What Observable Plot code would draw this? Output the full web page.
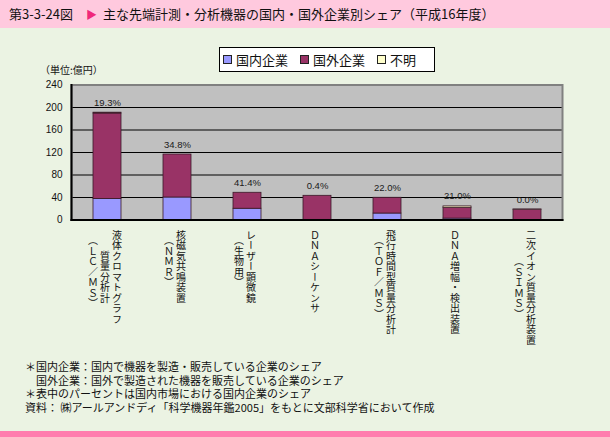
<!DOCTYPE html>
<html><head><meta charset="utf-8">
<script src="https://cdn.jsdelivr.net/npm/d3@7"></script>
<script src="https://cdn.jsdelivr.net/npm/@observablehq/plot@0.6"></script>
<style>
body{margin:0;}
#wrap{position:relative;width:610px;height:437px;background:#ebf3e3;overflow:hidden;font-family:"Noto Sans CJK JP",sans-serif;color:#111;}
#titlebar{position:absolute;left:0;top:0;width:610px;height:28px;background:#ffc9de;font-size:13px;line-height:28px;white-space:nowrap;}
#titlebar .t0{position:absolute;left:9px;}
#titlebar .tri{position:absolute;left:86px;color:#f0287a;font-size:11px;}
#titlebar .t1{position:absolute;left:103px;}
#unit{position:absolute;left:40px;top:62px;font-size:10px;white-space:nowrap;}
#legend{position:absolute;left:219px;top:47px;width:214px;height:23px;border:1px solid #000;background:#fff;display:flex;align-items:center;font-size:13px;z-index:2;}
#legend .item{display:flex;align-items:center;margin-left:3px;margin-right:9px;white-space:nowrap;}
#legend .sw{width:7px;height:7px;border:1px solid #222;margin-right:4px;}
#plot{position:absolute;left:0;top:0;}
#notes{position:absolute;left:25px;top:360px;font-size:11px;line-height:13.5px;white-space:pre;}
#footbar{position:absolute;left:0;top:431px;width:610px;height:6px;background:#ff7dae;}
</style></head>
<body>
<div id="wrap">
  <div id="titlebar"><span class="t0">第3-3-24図</span><span class="tri">▶</span><span class="t1">主な先端計測・分析機器の国内・国外企業別シェア（平成16年度）</span></div>
  <div id="unit">（単位:億円）</div>
  <div id="legend"></div>
  <div id="plot"></div>
  <div id="notes"></div>
  <div id="footbar"></div>
</div>
<script>
// ---- data ----
const categories = ["LC/MS", "NMR", "レーザー顕微鏡", "DNAシーケンサ", "TOF/MS", "DNA増幅・検出装置", "SIMS"];
const labelColumns = [
  ["液体クロマトグラフ", "質量分析計", "（ＬＣ／ＭＳ）"],
  ["核磁気共鳴装置", "（ＮＭＲ）"],
  ["レーザー顕微鏡", "（生物用）"],
  ["ＤＮＡシーケンサ"],
  ["飛行時間型質量分析計", "（ＴＯＦ／ＭＳ）"],
  ["ＤＮＡ増幅・検出装置"],
  ["二次イオン質量分析装置", "（ＳＩＭＳ）"]
];
const seriesNames = ["国内企業", "国外企業", "不明"];
const seriesColors = ["#9999ff", "#993366", "#ffffcc"];
const domestic = [37.5, 40, 20, 0.2, 11.5, 2.5, 0];
const foreign  = [151.8, 76.4, 28.4, 42.8, 28, 19.2, 18.3];
const unknown  = [1.5, 0, 0, 0, 0, 2.5, 0.4];
const shareLabels = ["19.3%", "34.8%", "41.4%", "0.4%", "22.0%", "21.0%", "0.0%"];
const yTicks = [0, 40, 80, 120, 160, 200, 240];
const notes = [
  "＊国内企業：国内で機器を製造・販売している企業のシェア",
  "　国外企業：国外で製造された機器を販売している企業のシェア",
  "＊表中のパーセントは国内市場における国内企業のシェア",
  "資料： ㈱アールアンドディ「科学機器年鑑2005」をもとに文部科学省において作成"
];

// ---- build tables ----
const seriesValues = [domestic, foreign, unknown];
const rows = [];
seriesNames.forEach((s, si) => categories.forEach((c, ci) => rows.push({cat: c, series: s, value: seriesValues[si][ci]})));
const totals = categories.map((c, i) => ({cat: c, total: domestic[i] + foreign[i] + unknown[i], label: shareLabels[i]}));

const colStep = 12;
const labelRows = [];
labelColumns.forEach((cols, ci) => {
  const n = cols.length;
  const maxLen = d3.max(cols, s => s.length);
  cols.forEach((s, i) => {
    const pad = (maxLen - s.length) / 2;
    const padStr = "　".repeat(Math.floor(pad)) + (pad % 1 ? "\u2002" : "");
    labelRows.push({cat: categories[ci], text: padStr + s, dx: ((n - 1) / 2 - i) * colStep - 2.5});
  });
});
const labelMarks = d3.groups(labelRows, d => d.dx).map(([dx, rs]) =>
  Plot.text(rs, {x: "cat", text: "text", frameAnchor: "bottom", dx, dy: 10, textAnchor: "start", lineAnchor: "bottom",
    fontSize: 10, fill: "#111", fontFamily: "Noto Sans CJK JP", ariaDescription: "vlabel"}));

const svg = Plot.plot({
  width: 610, height: 437,
  marginLeft: 71, marginRight: 48, marginTop: 84.5, marginBottom: 217.5,
  style: {background: "transparent", overflow: "visible"},
  x: {domain: categories, paddingInner: 0.6, paddingOuter: 0.3, axis: null},
  y: {domain: [0, 240]},
  color: {domain: seriesNames, range: seriesColors},
  marks: [
    Plot.frame({fill: "#c0c0c0", stroke: "none"}),
    Plot.ruleY(yTicks.slice(1, -1), {stroke: "#000", strokeWidth: 1}),
    Plot.barY(rows, {x: "cat", y: "value", fill: "series", stroke: "#3a1a28", strokeWidth: 0.8}),
    Plot.frame({stroke: "#808080", strokeWidth: 2}),
    Plot.frame({anchor: "left", stroke: "#000", strokeWidth: 2}),
    Plot.frame({anchor: "bottom", stroke: "#000", strokeWidth: 2}),
    Plot.axisY({ticks: yTicks, tickSize: 0, tickPadding: 9, fontSize: 10, fontFamily: "Liberation Sans, Arial, sans-serif", fill: "#111"}),
    Plot.text(totals, {x: "cat", y: "total", text: "label", dy: -10, fontSize: 9.5, fontFamily: "Liberation Sans, Arial, sans-serif", fill: "#1a1a1a"}),
    ...labelMarks
  ]
});
svg.querySelectorAll('g[aria-description="vlabel"]').forEach(g => {
  g.style.writingMode = "vertical-rl";
  g.style.textOrientation = "mixed";
  g.style.letterSpacing = "0.5px";
});
document.getElementById("plot").appendChild(svg);

// legend
const lg = document.getElementById("legend");
seriesNames.forEach((s, i) => {
  const it = document.createElement("div");
  it.className = "item";
  const sw = document.createElement("div");
  sw.className = "sw";
  sw.style.background = seriesColors[i];
  it.appendChild(sw);
  it.appendChild(document.createTextNode(s));
  lg.appendChild(it);
});
document.getElementById("notes").textContent = notes.join("\n");
</script>
</body></html>
